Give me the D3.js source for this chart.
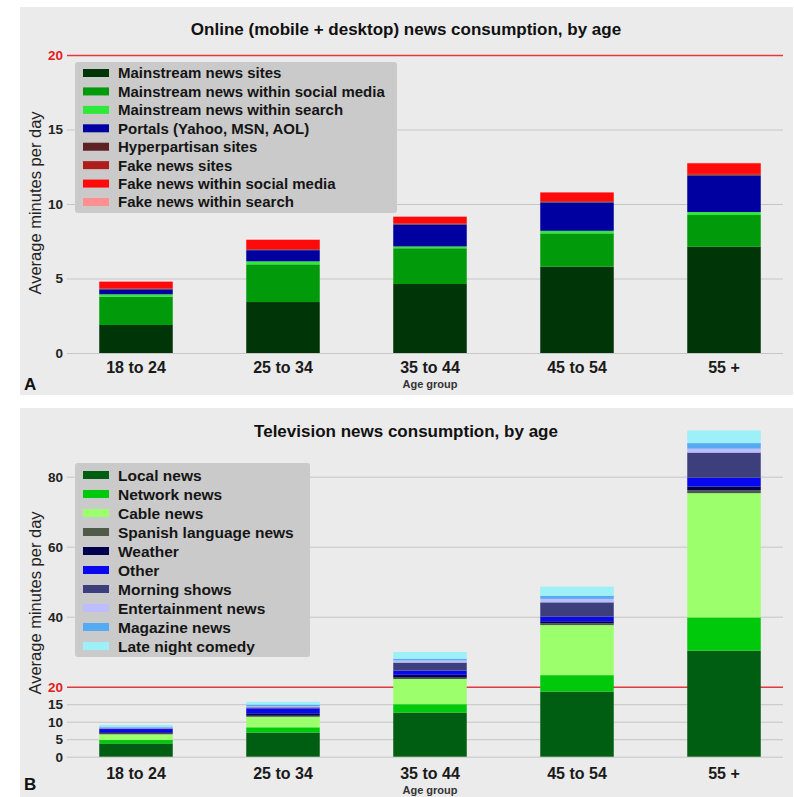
<!DOCTYPE html>
<html>
<head>
<meta charset="utf-8">
<script src="https://cdn.jsdelivr.net/npm/d3@7"></script>
<style>
  html, body { margin: 0; padding: 0; background: #ffffff; }
  svg { display: block; font-family: "Liberation Sans", Arial, Helvetica, sans-serif; }
</style>
</head>
<body>
<svg id="chart" width="794" height="797"></svg>
<script>
// ---- Shared categories ----
const ageGroups = ["18 to 24", "25 to 34", "35 to 44", "45 to 54", "55 +"];

// ---- Panel A: online news, average minutes per day ----
const onlineSeries = [
  "Mainstream news sites",
  "Mainstream news within social media",
  "Mainstream news within search",
  "Portals (Yahoo, MSN, AOL)",
  "Hyperpartisan sites",
  "Fake news sites",
  "Fake news within social media",
  "Fake news within search"
];
const onlineColors = ["#003508", "#009a0a", "#2ee83a", "#0000a0", "#5e2222", "#b01c1c", "#ff0a0a", "#ff9090"];
const mainstreamSites   = [1.88, 3.42, 4.63, 5.79, 7.13];
const mainstreamSocial  = [1.90, 2.53, 2.40, 2.24, 2.13];
const mainstreamSearch  = [0.16, 0.20, 0.12, 0.17, 0.20];
const portals           = [0.33, 0.75, 1.46, 1.90, 2.44];
const hyperpartisan     = [0.03, 0.04, 0.04, 0.05, 0.06];
const fakeSites         = [0.04, 0.04, 0.05, 0.05, 0.06];
const fakeSocial        = [0.45, 0.62, 0.45, 0.58, 0.72];
const fakeSearch        = [0.01, 0.02, 0.01, 0.01, 0.02];
const onlineValues = [mainstreamSites, mainstreamSocial, mainstreamSearch, portals,
                      hyperpartisan, fakeSites, fakeSocial, fakeSearch];
const onlineTicks = [0, 5, 10, 15, 20];

// ---- Panel B: television news, average minutes per day ----
const tvSeries = [
  "Local news", "Network news", "Cable news", "Spanish language news", "Weather",
  "Other", "Morning shows", "Entertainment news", "Magazine news", "Late night comedy"
];
const tvColors = ["#005e12", "#00c80a", "#9cff6c", "#4f5a48", "#00004e", "#0808f0", "#3c3f7c", "#bcbcff", "#55aaf2", "#9ef0f8"];
const localNews         = [3.8, 6.9, 12.6, 18.6, 30.3];
const networkNews       = [1.0, 1.5, 2.4, 4.7, 9.5];
const cableNews         = [1.6, 3.0, 7.2, 14.3, 35.5];
const spanishNews       = [0.2, 0.3, 0.4, 0.5, 0.8];
const weather           = [0.4, 0.7, 0.8, 0.6, 1.1];
const otherNews         = [0.9, 1.4, 1.2, 1.3, 2.5];
const morningShows      = [0.2, 0.3, 2.3, 4.1, 7.2];
const entertainmentNews = [0.2, 0.3, 0.6, 1.0, 1.1];
const magazineNews      = [0.3, 0.5, 0.5, 0.9, 1.6];
const lateNightComedy   = [0.5, 0.8, 1.9, 2.6, 3.6];
const tvValues = [localNews, networkNews, cableNews, spanishNews, weather, otherNews,
                  morningShows, entertainmentNews, magazineNews, lateNightComedy];
const tvTicks = [0, 5, 10, 15, 20, 40, 60, 80];

// Reference line value marked in red on both panels
const referenceLevel = 20;

const svg = d3.select("#chart");

function toRows(series, values) {
  return ageGroups.map((g, i) => {
    const row = { group: g };
    series.forEach((s, k) => { row[s] = values[k][i]; });
    return row;
  });
}

function drawPanel(cfg) {
  const g = svg.append("g");

  // panel background
  g.append("rect")
    .attr("x", 20).attr("y", cfg.top)
    .attr("width", 773).attr("height", cfg.bottom - cfg.top)
    .attr("fill", "#ebebeb");

  const x = d3.scaleBand()
    .domain(ageGroups)
    .range([62.5, 797.5])
    .paddingInner(0.5)
    .paddingOuter(0.25);

  const y = d3.scaleLinear().domain(cfg.domain).range(cfg.yRange);

  // y axis with full-width gridlines
  const yAxis = g.append("g")
    .attr("transform", "translate(67,0)")
    .call(d3.axisLeft(y).tickValues(cfg.ticks).tickSize(-716).tickPadding(4).tickFormat(d3.format("d")));
  yAxis.select(".domain").remove();
  yAxis.selectAll(".tick line")
    .attr("x1", 0)
    .attr("stroke", d => d === referenceLevel ? "#e23a3a" : "#c6c6c6")
    .attr("stroke-width", d => d === referenceLevel ? 1.4 : 1);
  yAxis.selectAll(".tick text")
    .attr("font-size", 13.5)
    .attr("font-weight", "bold")
    .attr("font-family", "'Liberation Sans', Arial, sans-serif")
    .attr("fill", d => d === referenceLevel ? "#e02020" : "#222");
  // keep the red reference line on top of the grey gridlines
  yAxis.selectAll(".tick").filter(d => d === referenceLevel).raise();

  // stacked bars
  const stacked = d3.stack().keys(cfg.series)(toRows(cfg.series, cfg.values));
  g.append("g").selectAll("g")
    .data(stacked)
    .join("g")
      .attr("fill", (d, i) => cfg.colors[i])
    .selectAll("rect")
    .data(d => d)
    .join("rect")
      .attr("x", d => x(d.data.group))
      .attr("width", x.bandwidth())
      .attr("y", d => y(d[1]))
      .attr("height", d => Math.max(0, y(d[0]) - y(d[1])));

  // x axis labels
  const xAxis = g.append("g")
    .attr("transform", `translate(0,${cfg.xLabelY})`)
    .call(d3.axisBottom(x).tickSize(0).tickPadding(0));
  xAxis.select(".domain").remove();
  xAxis.selectAll(".tick text")
    .attr("y", 0).attr("dy", 0)
    .attr("font-size", 16)
    .attr("font-weight", "bold")
    .attr("font-family", "'Liberation Sans', Arial, sans-serif")
    .attr("fill", "#1a1a1a");

  // axis titles
  g.append("text")
    .attr("x", 430).attr("y", cfg.xTitleY)
    .attr("text-anchor", "middle")
    .attr("font-size", 11).attr("font-weight", "bold")
    .attr("fill", "#333")
    .text("Age group");

  g.append("text")
    .attr("transform", `translate(41,${cfg.yTitleCenter}) rotate(-90)`)
    .attr("text-anchor", "middle")
    .attr("font-size", 16.5)
    .attr("fill", "#222")
    .text("Average minutes per day");

  // panel title
  g.append("text")
    .attr("x", 406).attr("y", cfg.titleY)
    .attr("text-anchor", "middle")
    .attr("font-size", 17).attr("font-weight", "bold")
    .attr("fill", "#111")
    .text(cfg.title);

  // panel letter
  g.append("text")
    .attr("x", 24).attr("y", cfg.letterY)
    .attr("font-size", 17).attr("font-weight", "bold")
    .attr("fill", "#111")
    .text(cfg.letter);

  // legend
  const lg = g.append("g");
  lg.append("rect")
    .attr("x", 75).attr("y", cfg.legend.top)
    .attr("width", cfg.legend.width).attr("height", cfg.legend.height)
    .attr("rx", 3)
    .attr("fill", "#cacaca");
  const items = lg.selectAll("g.item")
    .data(cfg.series)
    .join("g")
      .attr("class", "item")
      .attr("transform", (d, i) => `translate(0,${cfg.legend.firstRow + i * cfg.legend.step})`);
  items.append("rect")
    .attr("x", 83).attr("y", -4)
    .attr("width", 26).attr("height", 8)
    .attr("fill", (d, i) => cfg.colors[i]);
  items.append("text")
    .attr("x", 118).attr("y", 0).attr("dy", "0.36em")
    .attr("font-size", cfg.legend.fontSize).attr("font-weight", "bold")
    .attr("fill", "#151515")
    .text(d => d);
}

drawPanel({
  top: 7, bottom: 395,
  domain: [0, 20], yRange: [353, 55],
  ticks: onlineTicks,
  series: onlineSeries, colors: onlineColors, values: onlineValues,
  xLabelY: 373, xTitleY: 388, yTitleCenter: 203,
  title: "Online (mobile + desktop) news consumption, by age", titleY: 35,
  letter: "A", letterY: 390,
  legend: { top: 62, width: 322, height: 151, firstRow: 73, step: 18.43, fontSize: 15 }
});

drawPanel({
  top: 408, bottom: 797,
  domain: [0, 80], yRange: [756.7, 476.7],
  ticks: tvTicks,
  series: tvSeries, colors: tvColors, values: tvValues,
  xLabelY: 779, xTitleY: 794, yTitleCenter: 603,
  title: "Television news consumption, by age", titleY: 437,
  letter: "B", letterY: 790,
  legend: { top: 463, width: 235, height: 194, firstRow: 475, step: 19, fontSize: 15.5 }
});
</script>
</body>
</html>
